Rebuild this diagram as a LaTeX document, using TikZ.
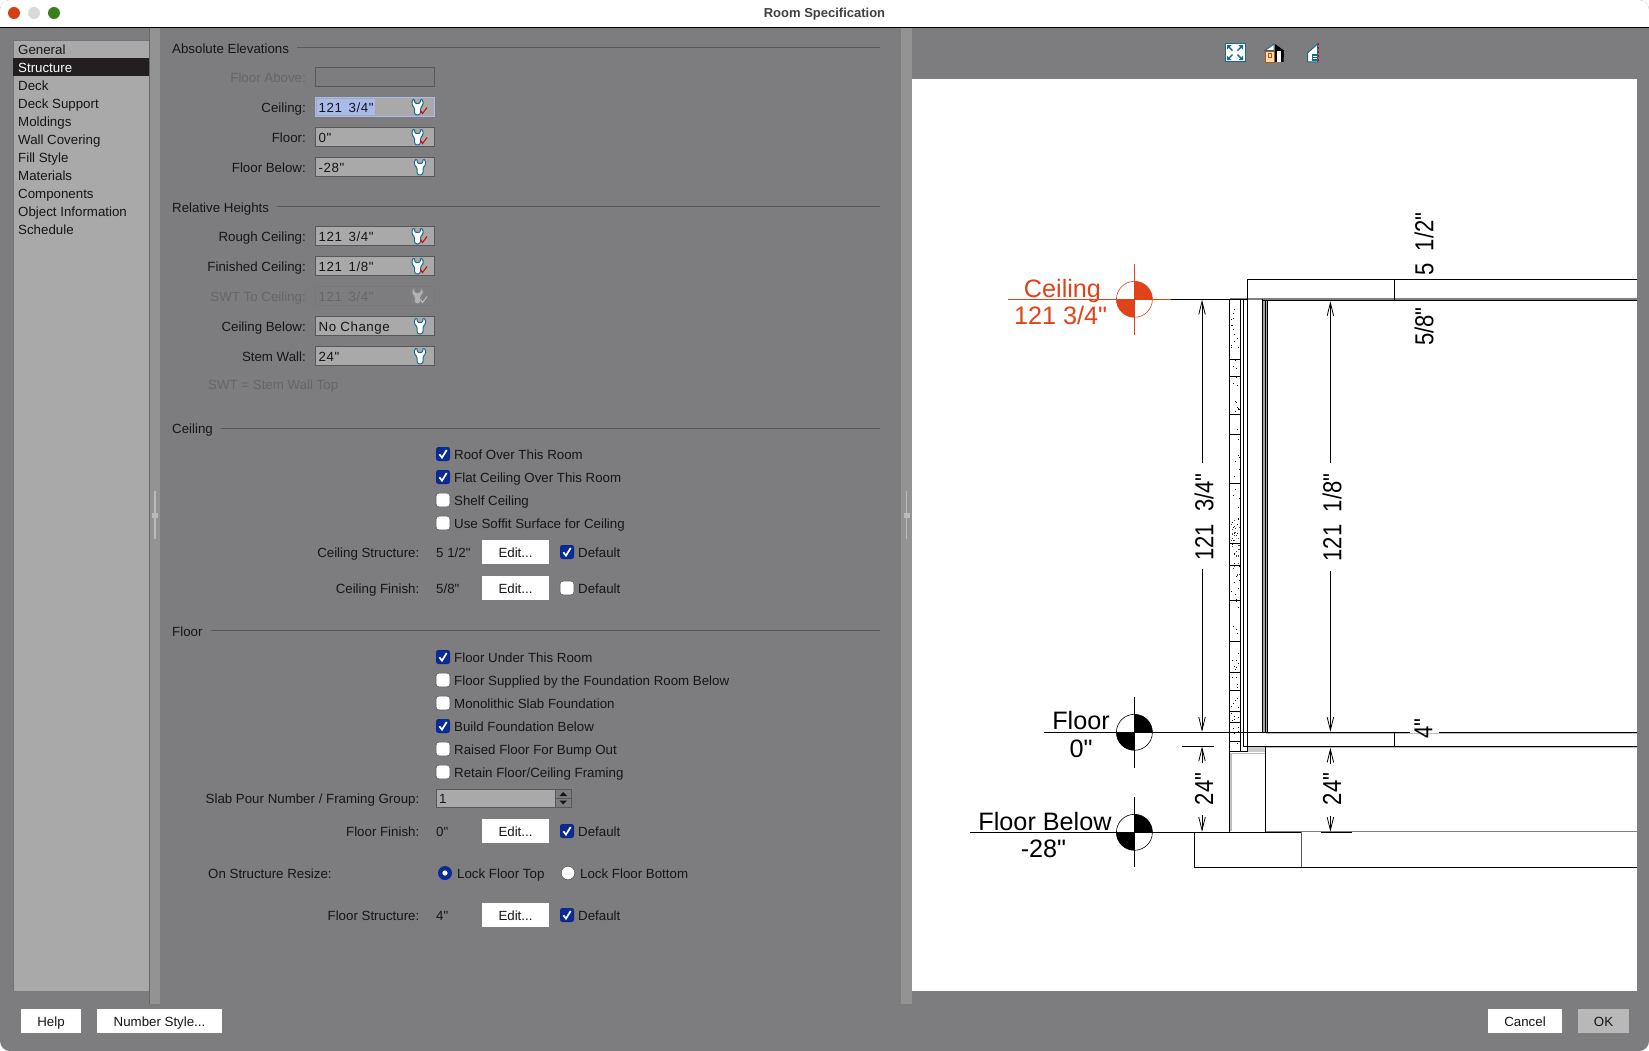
\documentclass[tikz,border=0pt]{standalone}
\usepackage{fontspec}
\newfontfamily\uifont{Liberation Sans}
\newfontfamily\fieldfont[LetterSpace=4]{Liberation Sans}
\usetikzlibrary{arrows.meta}
\definecolor{winbg}{HTML}{7D7D7F}
\definecolor{listbg}{HTML}{A9A9A9}
\definecolor{colbg}{HTML}{939393}
\definecolor{ink}{HTML}{161616}
\definecolor{dimtxt}{HTML}{666668}
\definecolor{teal}{HTML}{1B6A8C}
\definecolor{cblue}{HTML}{0A2A96}
\definecolor{redc}{HTML}{E0431A}
\definecolor{rule}{HTML}{58585A}
\definecolor{hilite}{HTML}{A9BBEA}
\definecolor{lightred}{HTML}{D23F12}
\definecolor{lightgreen}{HTML}{3E7D1E}
\definecolor{selrow}{HTML}{231F20}
\tikzset{
  ui/.style={font=\uifont\fontsize{13.3}{15}\selectfont,text=ink,inner sep=0pt,text height=13.2pt,text depth=2.5pt},
  lw/.style={ui,anchor=west},
  le/.style={ui,anchor=east},
  fv/.style={lw,font=\fieldfont\fontsize{13.3}{15}\selectfont},
  uibtn/.style={ui,fill=white,text centered,inner sep=0pt,anchor=center},
  field/.style={draw=rule,line width=.9pt,fill=listbg},
  sect/.style={draw=rule,line width=.9pt},
  drawln/.style={draw=black,line width=.8pt},
  grayln/.style={draw=black!50,line width=1.6pt},
  lab/.style={font=\uifont\fontsize{25.2}{27}\selectfont,inner sep=0pt,anchor=center},
  dimtext/.style={font=\uifont\fontsize{26}{28}\selectfont,inner sep=0pt,rotate=90,anchor=center},
  dimln/.style={draw=black,line width=.7pt},
  dimtip/.style={dimln,-{Straight Barb[length=13pt,width=6.5pt,line width=.8pt]}}
}
\newcommand{\wrenchicon}[3]{%
  \begin{scope}[shift={(#1,#2)}]
    \ifnum#3=2\relax\def\wc{black!48}\def\wf{black!30}\else\def\wc{teal}\def\wf{white}\fi
    \draw[draw=\wc,fill=\wf,line width=1pt,line join=round,rounded corners=1.2pt]
      (-5.5,-6.5) -- (-3,-8.2) -- (-2.6,-3.5) -- (2.6,-3.5) -- (3,-8.2) -- (5.5,-6.5) -- (5.5,-2) -- (3,.8)
      -- (3,6.5) -- (1.5,8) -- (-1.5,8) -- (-3,6.5) -- (-3,.8) -- (-5.5,-2) -- cycle;
    \ifnum#3=1\relax
      \draw[draw=red!85!black,line width=1pt] (3,3.5) -- (5,6.5) -- (9.5,0.5);
    \fi
    \ifnum#3=2\relax
      \draw[draw=black!25,line width=1pt] (3,3.5) -- (5,6.5) -- (9.5,0.5);
    \fi
  \end{scope}}
\newcommand{\checkon}[2]{%
  \draw[fill=cblue,draw=cblue!80!black,rounded corners=2.5pt,line width=.4pt] (#1-6.8,#2-6.8) rectangle (#1+6.8,#2+6.8);
  \draw[draw=white,line width=1.7pt] (#1-3.6,#2+.3) -- (#1-1,#2+3.6) -- (#1+3.7,#2-4);}
\newcommand{\checkoff}[2]{%
  \draw[fill=white,draw=black!70,rounded corners=2.5pt,line width=.5pt] (#1-6.8,#2-6.8) rectangle (#1+6.8,#2+6.8);}
\newcommand{\levelmark}[3]{% x y colour
  \fill[#3] (#1,#2) -- (#1,#2-18) arc[start angle=-90,end angle=0,radius=18] -- cycle;
  \fill[#3] (#1,#2) -- (#1,#2+18) arc[start angle=90,end angle=180,radius=18] -- cycle;
  \draw[#3,line width=.6pt] (#1,#2) circle[radius=18];}
\begin{document}
\begin{tikzpicture}[x=1pt,y=-1pt]
\useasboundingbox (0,0) rectangle (1649,1051);
% window
\fill[white] (0,0) rectangle (1649,1051);
\fill[winbg,rounded corners=10pt] (0,0) rectangle (1649,1051);
\fill[white,rounded corners=10pt] (0,27) -- (0,0) -- (1649,0) -- (1649,27) -- cycle;
\fill[white] (0,12) rectangle (1649,27);
\draw[black,line width=1.1pt] (0,27.2) -- (1649,27.2);
\fill[lightred] (14,13) circle[radius=6];
\fill[black!15] (34,13) circle[radius=6];
\fill[lightgreen] (54,13) circle[radius=6];
\node[font=\uifont\bfseries\fontsize{13}{15}\selectfont,text=black!75,inner sep=0pt] (title) at (824.5,14.3) {Room Specification};
% columns
\fill[colbg] (150,28) rectangle (160,1004);
\fill[colbg] (901,28) rectangle (912,1004);
\foreach \cx in {155,906.5}{
  \draw[black!27,line width=1.3pt] (\cx,491) -- (\cx,539);
  \fill[black!27] (\cx-3,513) rectangle (\cx+3,518);
}
% list
\fill[listbg] (13,40) rectangle (149,990.7);
\draw[black!55,line width=.7pt] (13,990.7) -- (13,40) -- (149,40);
\draw[black!60,line width=.7pt] (149.5,28) -- (149.5,1004);
\fill[selrow] (13,58) rectangle (149,76);
\foreach \nm/\yy/\tx in {g/49.5/General,de/85.5/Deck,ds/103.5/Deck Support,mo/121.5/Moldings,wc/139.5/Wall Covering,fs/157.5/Fill Style,ma/175.5/Materials,co/193.5/Components,ob/211.5/Object Information,sc/229.5/Schedule}
  \node[lw] (list\nm) at (18,\yy) {\tx};
\node[lw,text=white] (listst) at (18,67.5) {Structure};
% section headers
\node[lw] (hAbs) at (172,48) {Absolute Elevations};
\draw[sect] (297,47.5) -- (880,47.5);
\node[lw] (hRel) at (172,207.5) {Relative Heights};
\draw[sect] (277,206.7) -- (880,206.7);
\node[lw] (hCei) at (172,428) {Ceiling};
\draw[sect] (221,428) -- (880,428);
\node[lw] (hFlo) at (172,631) {Floor};
\draw[sect] (211,630.7) -- (880,630.7);
% fields
\draw[draw=rule,line width=.9pt] (315.5,67.5) rectangle (434.5,86.5);
\node[le,text=dimtxt] (lAbove) at (306,77.5) {Floor Above:};
\foreach \nm/\yy/\lb/\ic in {
  Cei/107/{Ceiling:}/1,
  Flo/137/{Floor:}/1,
  Bel/167/{Floor Below:}/0,
  Rou/236/{Rough Ceiling:}/1,
  Fin/266/{Finished Ceiling:}/1,
  Cbl/326/{Ceiling Below:}/0,
  Ste/356/{Stem Wall:}/0}{
  \draw[field] (315.5,\yy-9.5) rectangle (434.5,\yy+9.5);
  \node[le] (l\nm) at (306,\yy) {\lb};
}
\draw[draw=hilite,line width=1pt] (315.5,97.5) rectangle (434.5,116.5);
\fill[hilite] (317,99) rectangle (375,115);
\foreach \yy in {107,137,236,266} {\wrenchicon{417.5}{\yy}{1}}
\foreach \yy in {167,326,356} {\wrenchicon{420}{\yy}{0}}
\foreach \nm/\yy/\va in {Cei/107/{121\kern2.5pt\ 3/4"},Flo/137/{0"},Bel/167/{-28"},Rou/236/{121\kern2.5pt\ 3/4"},Fin/266/{121\kern2.5pt\ 1/8"},Cbl/326/{No Change},Ste/356/{24"}}
  \node[fv] (v\nm) at (318.5,\yy) {\va};
\draw[draw=rule!80,line width=.9pt] (315.5,286.5) rectangle (434.5,305.5);
\wrenchicon{417.5}{296}{2}
\node[le,text=dimtxt] (lSwt) at (306,296) {SWT To Ceiling:};
\node[fv,text=dimtxt] (vSwt) at (318.5,296) {121\kern2.5pt\ 3/4"};
\node[lw,text=dimtxt] (lNote) at (208,384.5) {SWT = Stem Wall Top};
% checkboxes
\foreach \yy/\on in {454/1,477/1,500/0,523/0,657/1,680/0,703/0,726/1,749/0,772/0}{
  \ifnum\on=1\relax\checkon{443}{\yy}\else\checkoff{443}{\yy}\fi
}
\foreach \nm/\yy/\tx in {
  a/454/{Roof Over This Room},
  b/477/{Flat Ceiling Over This Room},
  c/500/{Shelf Ceiling},
  d/523/{Use Soffit Surface for Ceiling},
  e/657/{Floor Under This Room},
  f/680/{Floor Supplied by the Foundation Room Below},
  g/703/{Monolithic Slab Foundation},
  h/726/{Build Foundation Below},
  i/749/{Raised Floor For Bump Out},
  j/772/{Retain Floor/Ceiling Framing}}
  \node[lw] (cb\nm) at (454,\yy) {\tx};
% edit rows
\foreach \nm/\yy/\lb/\va/\on in {
  a/552/{Ceiling Structure:}/{5 1/2"}/1,
  b/588/{Ceiling Finish:}/{5/8"}/0,
  c/831/{Floor Finish:}/{0"}/1,
  d/915/{Floor Structure:}/{4"}/1}{
  \node[le] (rl\nm) at (419.5,\yy) {\lb};
  \node[lw] (rv\nm) at (436,\yy) {\va};
  \node[uibtn,minimum width=67pt,minimum height=24pt] (rb\nm) at (515.5,\yy) {Edit...};
  \ifnum\on=1\relax\checkon{567}{\yy}\else\checkoff{567}{\yy}\fi
  \node[lw] (rd\nm) at (578,\yy) {Default};
}
% slab number
\node[le] (lSlab) at (419.5,798) {Slab Pour Number / Framing Group:};
\draw[field] (436,789) rectangle (555,807);
\node[lw] (vSlab) at (439,798) {1};
\draw[draw=rule,line width=.8pt,fill=winbg] (555,789) rectangle (571.5,807);
\draw[draw=rule,line width=.6pt] (555,798) -- (571.5,798);
\fill[ink] (563.2,792) -- (567,796) -- (559.4,796) -- cycle;
\fill[ink] (563.2,804.5) -- (567,800.5) -- (559.4,800.5) -- cycle;
% radios
\node[lw] (lRes) at (208,873) {On Structure Resize:};
\fill[cblue] (445,873) circle[radius=7];
\fill[white] (445,873) circle[radius=2.6];
\node[lw] (rTop) at (457,873) {Lock Floor Top};
\draw[fill=white,draw=black!70,line width=.5pt] (568,873) circle[radius=6.8];
\node[lw] (rBot) at (580,873) {Lock Floor Bottom};
% bottom buttons
\node[uibtn,minimum width=60pt,minimum height=24pt] (bHelp) at (51,1021) {Help};
\node[uibtn,minimum width=125pt,minimum height=24pt] (bNum) at (159.5,1021) {Number Style...};
\node[uibtn,minimum width=74pt,minimum height=24pt] (bCan) at (1525,1021) {Cancel};
\node[uibtn,fill=black!28,minimum width=51pt,minimum height=24pt] (bOk) at (1603.5,1021) {OK};
% top icons
\draw[fill=white,draw=teal,line width=1pt] (1225,43.5) rectangle (1245,62);
\foreach \sx/\sy in {1/1,1/-1,-1/1,-1/-1}{
  \fill[teal] (1235+\sx*8,52.7+\sy*7.5) -- (1235+\sx*3.5,52.7+\sy*7.5) -- (1235+\sx*8,52.7+\sy*3) -- cycle;
  \draw[teal,line width=1.4pt] (1235+\sx*6,52.7+\sy*5.5) -- (1235+\sx*2.5,52.7+\sy*2);
}
\draw[fill=orange!30!white,draw=orange!70!black,line width=.8pt] (1265.5,51) rectangle (1274,62);
\draw[draw=orange!70!black,line width=.9pt] (1268.5,53.5) rectangle (1271.5,57);
\draw[fill=white,draw=teal,line width=.9pt] (1265,50.5) -- (1274,44) -- (1274,50.5) -- cycle;
\fill[black] (1275,44) -- (1284,50.5) -- (1283.5,62) -- (1275,62) -- cycle;
\fill[white] (1277,51) rectangle (1281,62);
\draw[fill=white,draw=teal,line width=1pt] (1307.5,53) -- (1317.5,44) -- (1317.5,62) -- (1307.5,62) -- cycle;
\draw[teal,line width=1.1pt] (1317,55) -- (1312.5,55) -- (1312.5,60) -- (1317,60) (1312.5,57.5) -- (1317,57.5);
\draw[red!85!black,line width=.9pt,dash pattern=on 2pt off 2pt] (1318.5,43) -- (1318.5,63);
% drawing panel
\fill[white] (912,79) rectangle (1637,990.7);
\begin{scope}
\clip (912,79) rectangle (1637,990.7);
% gray under-lines
\draw[grayln] (1230,298.7) -- (1640,298.7);
\draw[black!25,line width=1pt] (1265,747.8) -- (1640,747.8);
\draw[black!25,line width=1pt] (1266,733.8) -- (1640,733.8);
\fill[black!20] (1247.5,746.5) rectangle (1265,752);
\draw[black!25,line width=1.2pt] (1231,753) -- (1231,831);
\draw[black!25,line width=1pt] (1231,753) -- (1264.5,753);
\draw[draw=black!50,line width=1.7pt] (1265,831.5) -- (1640,831.5);
% ceiling structure
\draw[drawln] (1247.3,299.3) -- (1247.3,279.3) -- (1640,279.3);
\draw[drawln] (1394.5,279.3) -- (1394.5,300.7);
\draw[drawln] (1262.3,300.7) -- (1640,300.7);
% wall verticals
\fill[black!35] (1262.3,301) rectangle (1267,732);
\draw[drawln] (1229.7,299.3) -- (1229.7,832.3);
\draw[drawln] (1240.3,299.3) -- (1240.3,751.7);
\draw[drawln] (1243.4,299.3) -- (1243.4,746.3);
\draw[drawln] (1247.3,299.3) -- (1247.3,751.7);
\draw[drawln] (1262.3,299.3) -- (1262.3,732.3);
\draw[drawln] (1265,301) -- (1265,732.3);
\draw[drawln] (1267,301) -- (1267,732.3);
\draw[drawln] (1265,746.3) -- (1265,832.3);
\draw[draw=black,line width=1.2pt] (1229.7,751.7) -- (1247.3,751.7);
% siding texture
\foreach \yy in {359.3,376.7,414.3,434.3,483.3,543.3,565.7,600,641,672,690,711,722,741}
  \draw[black,line width=.7pt] (1229.7,\yy) -- (1240.3,\yy);
\pgfmathsetseed{4711}
\foreach \i in {1,...,90}{
  \pgfmathsetmacro{\px}{1231+8*rnd}
  \pgfmathsetmacro{\py}{302+448*rnd}
  \fill[black] (\px,\py) rectangle ++(1,1);
}
\foreach \i in {1,...,35}{
  \pgfmathsetmacro{\px}{1231+8*rnd}
  \pgfmathsetmacro{\py}{520+55*rnd}
  \fill[black!70] (\px,\py) rectangle ++(1,1);
}
% floor slab and level lines
\coordinate (ceilL) at (1008,299.3);
\coordinate (ceilM) at (1171,299.3);
\coordinate (ceilR) at (1248,299.3);
\coordinate (floorL) at (1044,732.3);
\coordinate (floorM) at (1410,732.3);
\coordinate (floorN) at (1439,732.3);
\coordinate (floorR) at (1640,732.3);
\coordinate (belowL) at (970,832.3);
\coordinate (belowR) at (1301,832.3);
\draw[redc,line width=.8pt] (ceilL) -- (ceilM);
\draw[drawln] (ceilM) -- (ceilR);
\draw[drawln] (floorL) -- (floorM);
\draw[drawln] (floorN) -- (floorR);
\draw[drawln] (belowL) -- (belowR);
\draw[drawln] (1243.4,746.3) -- (1640,746.3);
\draw[drawln] (1394.5,732.3) -- (1394.5,746.3);
\draw[drawln] (1194.6,832.3) -- (1194.6,867.3) -- (1640,867.3);
\draw[draw=black!65,line width=.9pt] (1301,832.3) -- (1301,867.3);
\draw[drawln] (1321,832.3) -- (1352,832.3);
% level marks
\levelmark{1134.4}{299.3}{redc}
\levelmark{1134.4}{732.3}{black}
\levelmark{1134.4}{832.3}{black}
\draw[redc,line width=.7pt] (1134.4,264) -- (1134.4,335);
\draw[black,line width=.7pt] (1134.4,696.7) -- (1134.4,768.3);
\draw[black,line width=.7pt] (1134.4,796.7) -- (1134.4,867.3);
\node[lab,text=redc] (tCei) at (1062.5,290.5) {Ceiling};
\node[lab,text=redc] (tCeiV) at (1060.5,315.5) {121 3/4"};
\node[lab] (tFlo) at (1081,720.5) {Floor};
\node[lab] (tFloV) at (1081,748.5) {0"};
\node[lab] (tBel) at (1045,821) {Floor Below};
\node[lab] (tBelV) at (1043.5,848.5) {-28"};
% dimensions
\node[dimtext] (d1) at (1204,517) {\scalebox{.85}[1]{121\ \ 3/4"}};
\node[dimtext] (d2) at (1332,517.5) {\scalebox{.85}[1]{121\ \ 1/8"}};
\node[dimtext] (d3) at (1424,244) {\scalebox{.85}[1]{5\ \ 1/2"}};
\node[dimtext] (d4) at (1424,326.5) {\scalebox{.85}[1]{5/8"}};
\node[dimtext] (d5) at (1423.5,728.3) {\scalebox{.85}[1]{4"}};
\node[dimtext] (d6) at (1204,789) {\scalebox{.85}[1]{24"}};
\node[dimtext] (d7) at (1332,789) {\scalebox{.85}[1]{24"}};
\coordinate (a1) at (1202,462.7); \coordinate (a1t) at (1202,299.8);
\coordinate (a2) at (1202,569.3); \coordinate (a2t) at (1202,731.8);
\coordinate (b1) at (1330.4,463.3); \coordinate (b1t) at (1330.4,301.2);
\coordinate (b2) at (1330.4,570.7); \coordinate (b2t) at (1330.4,731.8);
\coordinate (c1) at (1202,763.3); \coordinate (c1t) at (1202,746.5);
\coordinate (c2) at (1202,815); \coordinate (c2t) at (1202,831.8);
\coordinate (e1) at (1330.4,764); \coordinate (e1t) at (1330.4,747.8);
\coordinate (e2) at (1330.4,816); \coordinate (e2t) at (1330.4,831.8);
\coordinate (tkL) at (1182,746); \coordinate (tkR) at (1214,746);
\draw[dimtip] (a1) -- (a1t);
\draw[dimtip] (a2) -- (a2t);
\draw[dimtip] (b1) -- (b1t);
\draw[dimtip] (b2) -- (b2t);
\draw[dimtip] (c1) -- (c1t);
\draw[dimtip] (c2) -- (c2t);
\draw[dimtip] (e1) -- (e1t);
\draw[dimtip] (e2) -- (e2t);
\draw[dimln] (tkL) -- (tkR);
\end{scope}
\end{tikzpicture}
\end{document}
